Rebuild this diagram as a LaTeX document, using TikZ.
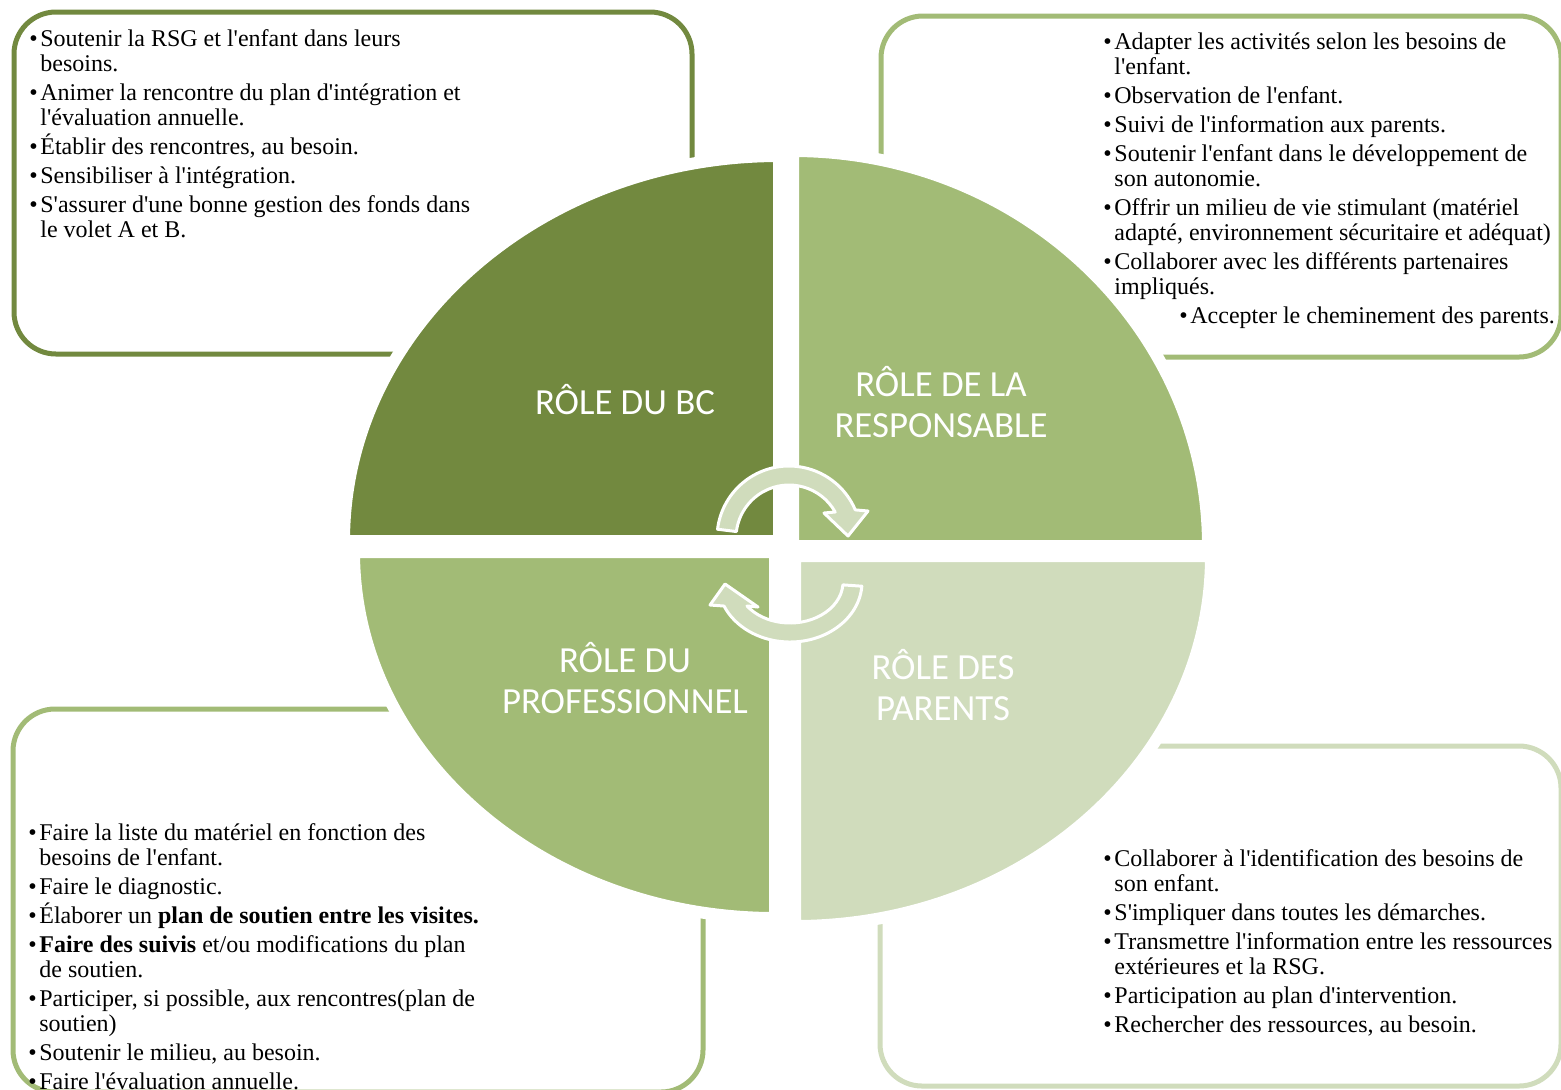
\documentclass[tikz,border=0pt]{standalone}
\usepackage{fontspec}
\setmainfont{Liberation Serif}[Ligatures=TeXOff]
\newfontfamily\rolefont{Carlito}
\usepackage{xcolor}
\definecolor{olvdark}{RGB}{114,137,63}
\definecolor{olvmid}{RGB}{162,187,118}
\definecolor{olvlight}{RGB}{208,220,188}
\usepackage{tikz}
\usetikzlibrary{calc}
\protected\def\listfont{\fontsize{12}{12.5}\selectfont\lineskiplimit=-10pt\relax}
\tikzset{
  infobox/.style={line width=2.5pt, rounded corners=21pt},
  quadrant/.style={draw=white, line width=6pt},
  arrowband/.style={fill=olvlight, draw=white, line width=1.5pt, line join=round},
  listtext/.style={anchor=north west, inner sep=0pt, align=left, font=\listfont},
  rolelabel/.style={white, align=center, inner sep=0pt, font=\rolefont\fontsize{18.4}{20.5}\selectfont}
}
\newcommand{\bul}{\makebox[5.5pt][l]{\textbullet}}
\newcommand{\cont}{\hspace*{5.5pt}}

\begin{document}
\begin{tikzpicture}[x=0.5pt, y=-0.5pt]
  \useasboundingbox (0,0) rectangle (1561,1089);

  % Boxes
  \draw[infobox, draw=olvdark] (14,12) rectangle (692,354);
  \draw[infobox, draw=olvmid] (881,16) rectangle (1561,357);
  \draw[infobox, draw=olvmid] (13,709) rectangle (703,1092);
  \draw[infobox, draw=olvlight] (880,746) rectangle (1561,1086);

  % Quadrants
  \draw[quadrant, fill=olvdark] (779,541) -- (344,541) arc[start angle=180, end angle=270, x radius=435, y radius=385] -- cycle;
  \draw[quadrant, fill=olvmid] (793,546) -- (793,151) arc[start angle=270, end angle=360, x radius=415, y radius=395] -- cycle;
  \draw[quadrant, fill=olvmid] (775,552) -- (775,918) arc[start angle=90, end angle=180, x radius=421, y radius=366] -- cycle;
  \draw[quadrant, fill=olvlight] (795,556) -- (1211,556) arc[start angle=0, end angle=90, x radius=416, y radius=370] -- cycle;

  % Cycle arrows
  \coordinate (cu) at (789,538);
  \coordinate (cl) at (790,582);
  \draw[arrowband] ($(cu)+(187:72)$) arc[start angle=187, end angle=337, radius=72]
    -- (868,511) -- (848,536) -- (824,513) -- ($(cu)+(330.6:53)$)
    arc[start angle=330.6, end angle=187, radius=53] -- cycle;
  \draw[arrowband] ($(cl)+(4:72 and 60)$) arc[start angle=4, end angle=156.4, x radius=72, y radius=60]
    -- (710,605) -- (725,584) -- (758,607) -- ($(cl)+(144.2:53 and 41)$)
    arc[start angle=144.2, end angle=4, x radius=53, y radius=41] -- cycle;

  % Labels
  \node[rolelabel] (bclabel) at (625,400) {RÔLE DU BC};
  \node[rolelabel] (resplabel) at (941,402) {RÔLE DE LA\\RESPONSABLE};
  \node[rolelabel] (prolabel) at (625,678) {RÔLE DU\\PROFESSIONNEL};
  \node[rolelabel] (parlabel) at (943,685) {RÔLE DES\\PARENTS};

  % Lists
  \node[listtext] (bctext) at (29,24) {\rule{0pt}{11pt}\bul Soutenir la RSG et l'enfant dans leurs\\
    \cont besoins.\\[2pt]
    \bul Animer la rencontre du plan d'intégration et\\
    \cont l'évaluation annuelle.\\[2pt]
    \bul Établir des rencontres, au besoin.\\[2pt]
    \bul Sensibiliser à l'intégration.\\[2pt]
    \bul S'assurer d'une bonne gestion des fonds dans\\
    \cont le volet A et B.};

  \node[listtext] (resptext) at (1103,27) {\rule{0pt}{11pt}\bul Adapter les activités selon les besoins de\\
    \cont l'enfant.\\[2pt]
    \bul Observation de l'enfant.\\[2pt]
    \bul Suivi de l'information aux parents.\\[2pt]
    \bul Soutenir l'enfant dans le développement de\\
    \cont son autonomie.\\[2pt]
    \bul Offrir un milieu de vie stimulant (matériel\\
    \cont adapté, environnement sécuritaire et adéquat)\\[2pt]
    \bul Collaborer avec les différents partenaires\\
    \cont impliqués.\\[2pt]
    \hspace*{38pt}\bul Accepter le cheminement des parents.};

  \node[listtext] (protext) at (28,818) {\rule{0pt}{11pt}\bul Faire la liste du matériel en fonction des\\
    \cont besoins de l'enfant.\\[2pt]
    \bul Faire le diagnostic.\\[2pt]
    \bul Élaborer un \textbf{plan de soutien entre les visites.}\\[2pt]
    \bul \textbf{Faire des suivis} et/ou modifications du plan\\
    \cont de soutien.\\[2pt]
    \bul Participer, si possible, aux rencontres(plan de\\
    \cont soutien)\\[2pt]
    \bul Soutenir le milieu, au besoin.\\[2pt]
    \bul Faire l'évaluation annuelle.};

  \node[listtext] (partext) at (1103,844) {\rule{0pt}{11pt}\bul Collaborer à l'identification des besoins de\\
    \cont son enfant.\\[2pt]
    \bul S'impliquer dans toutes les démarches.\\[2pt]
    \bul Transmettre l'information entre les ressources\\
    \cont extérieures et la RSG.\\[2pt]
    \bul Participation au plan d'intervention.\\[2pt]
    \bul Rechercher des ressources, au besoin.};
\end{tikzpicture}
\end{document}
